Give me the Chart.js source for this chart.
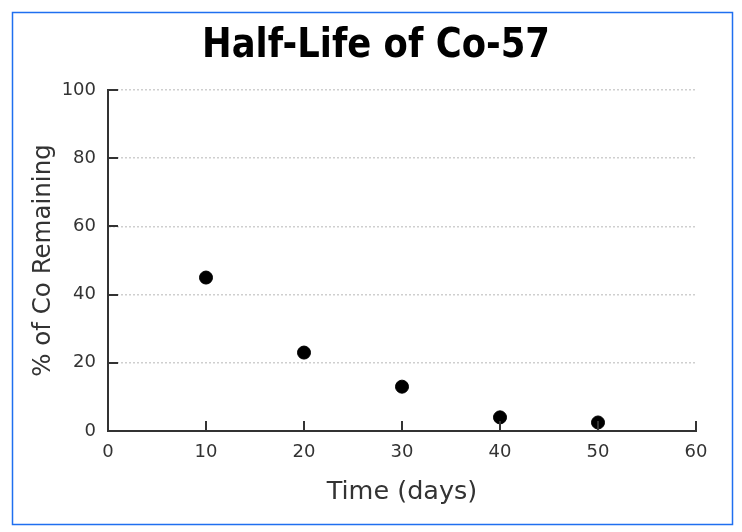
<!DOCTYPE html>
<html>
<head>
<meta charset="utf-8">
<script src="https://cdn.jsdelivr.net/npm/chart.js@4"></script>
<style>
  html, body { margin: 0; padding: 0; background: #fff; }
  canvas { display: block; }
</style>
</head>
<body>
<canvas id="coChart" width="742" height="532"></canvas>
<script>
// data
const days = [10, 20, 30, 40, 50];
const remaining = [45, 23, 13, 4, 2.5];
const xTicks = [0, 10, 20, 30, 40, 50, 60];
const yTicks = [0, 20, 40, 60, 80, 100];
const chartTitle = 'Half-Life of Co-57';

const FONT = "'DejaVu Sans', Verdana, sans-serif";

// blue frame round the whole picture
const framePlugin = {
    id: 'frame',
    beforeDraw(chart) {
        const ctx = chart.ctx;
        ctx.save();
        ctx.fillStyle = '#fff';
        ctx.fillRect(0, 0, chart.width, chart.height);
        ctx.strokeStyle = '#1f6ff0';
        ctx.lineWidth = 1.5;
        ctx.strokeRect(12.5, 12.5, 720, 512);
        ctx.restore();
    }
};

// title, a bit condensed like the original
const titlePlugin = {
    id: 'bigTitle',
    afterDraw(chart) {
        const ctx = chart.ctx;
        ctx.save();
        ctx.translate(376, 57);
        ctx.scale(0.885, 1);
        ctx.font = 'bold 40px ' + FONT;
        ctx.fillStyle = '#000';
        ctx.textAlign = 'center';
        ctx.textBaseline = 'alphabetic';
        ctx.fillText(chartTitle, 0, 0);
        ctx.restore();
    }
};

// small tick marks pointing into the plot
const innerTicks = {
    id: 'innerTicks',
    afterDatasetsDraw(chart) {
        const ctx = chart.ctx;
        const area = chart.chartArea;
        const x = chart.scales.x, y = chart.scales.y;
        ctx.save();
        ctx.strokeStyle = '#333';
        ctx.lineWidth = 2;
        ctx.beginPath();
        xTicks.forEach(v => {
            if (v === 0) return;
            const px = Math.round(x.getPixelForValue(v));
            ctx.moveTo(px, area.bottom);
            ctx.lineTo(px, area.bottom - 10);
        });
        yTicks.forEach(v => {
            if (v === 0) return;
            const py = Math.round(y.getPixelForValue(v));
            ctx.moveTo(area.left, py);
            ctx.lineTo(area.left + 10, py);
        });
        ctx.stroke();
        ctx.restore();
    }
};

const ctx = document.getElementById('coChart').getContext('2d');
new Chart(ctx, {
    type: 'scatter',
    data: {
        datasets: [{
            label: '% of Co Remaining',
            data: days.map((d, i) => ({ x: d, y: remaining[i] })),
            backgroundColor: '#000',
            borderColor: '#000',
            pointRadius: 6.5,
            pointHoverRadius: 6.5
        }]
    },
    options: {
        responsive: false,
        animation: false,
        layout: { padding: { left: 20, right: 46, top: 90, bottom: 8 } },
        plugins: {
            legend: { display: false },
            tooltip: { enabled: false },
            title: { display: false }
        },
        scales: {
            x: {
                type: 'linear',
                min: 0,
                max: 60,
                afterFit: s => { s.height = 93; },
                afterBuildTicks: s => { s.ticks = xTicks.map(v => ({ value: v })); },
                ticks: { color: '#333', padding: 11, font: { family: FONT, size: 18 } },
                grid: { drawOnChartArea: false, drawTicks: false },
                border: { color: '#333', width: 2 },
                title: {
                    display: true,
                    text: 'Time (days)',
                    color: '#333',
                    font: { family: FONT, size: 25.5 },
                    padding: { top: 0, bottom: 16.5 }
                }
            },
            y: {
                min: 0,
                max: 100,
                afterFit: s => { s.width = 88; },
                afterBuildTicks: s => { s.ticks = yTicks.map(v => ({ value: v })); },
                ticks: { color: '#333', padding: 12, font: { family: FONT, size: 18 } },
                grid: {
                    drawTicks: false,
                    color: '#cfcfcf',
                    lineWidth: 1.5
                },
                border: { color: '#333', width: 2, dash: [2, 2] },
                title: {
                    display: true,
                    text: '% of Co Remaining',
                    color: '#333',
                    font: { family: FONT, size: 24.5 },
                    padding: { top: 9, bottom: 0 }
                }
            }
        }
    },
    plugins: [framePlugin, innerTicks, titlePlugin]
});
</script>
</body>
</html>
